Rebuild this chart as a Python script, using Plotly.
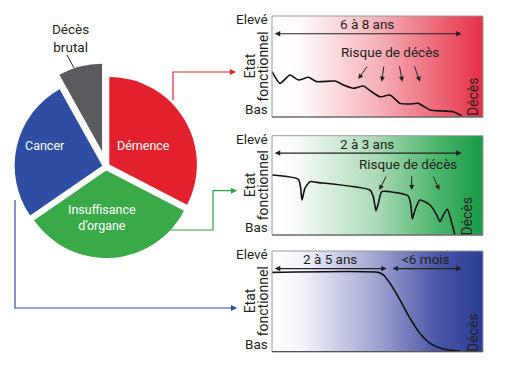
import plotly.graph_objects as go

# ---------------- data ----------------
causes = ["Démence", "Insuffisance d’organe", "Cancer", "Décès brutal"]
shares = [32.6, 32.8, 26.5, 8.1]
pie_colors = ["#e3202e", "#3aa947", "#2d4ea2", "#595b5e"]
pulls = [0.044, 0.044, 0.044, 0.18]

# functional-state curves (x: % of time span, y: % functional state)
red_x = [0, 3.8, 8.5, 12.5, 17.2, 21.2, 29.9, 33.8, 38.5, 43.3, 47.2, 51.2, 55.9,
         60.7, 65.4, 69.3, 74.9, 81.2, 85.9, 89.9]
red_y = [44.9, 33.3, 41.6, 36.6, 39.3, 35.0, 35.6, 31.7, 28.4, 30.7, 25.0, 20.0, 21.8,
         13.5, 12.9, 13.5, 6.9, 5.9, 5.2, 1.3]

green_x = [0, 12.5, 13.6, 14.2, 15.6, 18.0, 21.2, 46.4, 48.0, 49.3, 50.4, 52.0, 55.9,
           64.6, 65.9, 66.5, 67.8, 70.1, 74.9, 78.1, 79.6, 81.2, 83.1, 84.4, 86.7]
green_y = [60.4, 56.1, 47.0, 35.2, 47.0, 53.7, 53.0, 45.3, 38.6, 24.5, 31.9, 43.6, 43.6,
           39.3, 28.5, 16.1, 25.2, 35.2, 30.2, 20.1, 13.4, 20.1, 25.9, 18.4, 0]

blue_x = [0, 50.4, 52.8, 55.9, 60.7, 65.4, 70.1, 74.9, 81.2, 89.1]
blue_y = [78.8, 78.8, 76.2, 67.9, 51.3, 33.2, 18.3, 8.3, 2.7, 0.7]

# duration spans per panel: (start %, end %, label)
red_spans = [(0.6, 89.9, "6 à 8 ans")]
green_spans = [(0.6, 89.9, "2 à 3 ans")]
blue_spans = [(0.6, 54.4, "2 à 5 ans"), (56.4, 89.9, "<6 mois")]

# "Risque de décès" arrows: (tail x, tail y, head x, head y)
red_risk = [(45.6, 51.5, 40.9, 37.6), (53.1, 51.5, 52.0, 35.0),
            (60.3, 51.5, 61.8, 35.0), (67.3, 51.5, 70.1, 35.0)]
green_risk = [(54.4, 60.4, 50.9, 45.3), (66.2, 60.4, 66.2, 45.3),
              (76.1, 60.4, 79.3, 45.3)]

W, H = 506, 371
FONT = "Roboto, Liberation Sans, sans-serif"
TXT = "#231f20"
PS = 13.5  # panel text size


def px(x):
    return x / W


def py(y):
    return 1 - y / H


fig = go.Figure()

# ---------------- pie ----------------
fig.add_trace(go.Pie(
    labels=causes, values=shares, sort=False, direction="clockwise", rotation=0,
    pull=pulls, marker=dict(colors=pie_colors, line=dict(color="white", width=0)),
    textinfo="none", hoverinfo="label+percent", showlegend=False,
    domain=dict(x=[px(2.65), px(209.35)], y=[py(269.95), py(63.25)]),
))

# ---------------- panels ----------------
panels = [
    dict(x=red_x, y=red_y, spans=red_spans, risk=red_risk, risk_lbl=(56.0, 64.0),
         dom_y=(117, 16), deces=(95.4, 20),
         scale=[[0, "#ffffff"], [0.14, "#fffafa"], [0.5, "#f6b2b9"], [1, "#e62f44"]]),
    dict(x=green_x, y=green_y, spans=green_spans, risk=green_risk, risk_lbl=(64.5, 71.0),
         dom_y=(235, 135.7), deces=(92.3, 19.3),
         scale=[[0, "#ffffff"], [0.12, "#f7fbf8"], [0.5, "#a9d9b5"], [0.78, "#4cb56a"], [1, "#179a45"]]),
    dict(x=blue_x, y=blue_y, spans=blue_spans, risk=[], risk_lbl=None,
         dom_y=(351.7, 251), deces=(95.0, 19.0),
         scale=[[0, "#ffffff"], [0.15, "#f2f2f9"], [0.5, "#9ea3d1"], [0.78, "#4a57a7"], [1, "#2b3d94"]]),
]

annotations = []
shapes = []
for i, p in enumerate(panels, start=2):
    xa, ya = f"x{i}", f"y{i}"
    # gradient background
    fig.add_trace(go.Scatter(
        x=[0, 100, 100, 0, 0], y=[0, 0, 100, 100, 0], xaxis=xa, yaxis=ya,
        mode="lines", line=dict(width=0), fill="toself",
        fillgradient=dict(type="horizontal", colorscale=p["scale"]),
        hoverinfo="skip", showlegend=False))
    # curve
    fig.add_trace(go.Scatter(
        x=p["x"], y=p["y"], xaxis=xa, yaxis=ya, mode="lines",
        line=dict(color="#111111", width=1.6, shape="spline", smoothing=0.6),
        hoverinfo="skip", showlegend=False))
    fig.update_layout(**{
        f"xaxis{i}": dict(domain=[px(272), px(483)], range=[0, 100], anchor=ya,
                          showgrid=False, zeroline=False, showticklabels=False, ticks="",
                          showline=False),
        f"yaxis{i}": dict(domain=[py(p["dom_y"][0]), py(p["dom_y"][1])], range=[0, 100],
                          anchor=xa, showgrid=False, zeroline=False, showticklabels=False,
                          ticks="", showline=False),
    })
    # panel frame
    shapes.append(dict(type="rect", xref=f"{xa} domain", yref=f"{ya} domain", x0=0, x1=1, y0=0, y1=1,
                       line=dict(color="#9a9a9a", width=1), layer="above"))
    shapes.append(dict(type="line", xref=f"{xa} domain", yref=f"{ya} domain", x0=0, x1=1, y0=0, y1=0,
                       line=dict(color="#555555", width=1.2), layer="above"))
    # spans
    for (s0, s1, lbl) in p["spans"]:
        annotations.append(dict(x=s1, y=82.5, ax=s0, ay=82.5, xref=xa, yref=ya, axref=xa, ayref=ya,
                                text="", showarrow=True, arrowside="end+start", arrowhead=2,
                                arrowsize=1, arrowwidth=1.1, arrowcolor="#222222"))
        annotations.append(dict(x=(s0 + s1) / 2, y=92, xref=xa, yref=ya, text=lbl, showarrow=False,
                                font=dict(family=FONT, size=PS, color=TXT)))
    # risk arrows
    for (tx, ty, hx, hy) in p["risk"]:
        annotations.append(dict(x=hx, y=hy, ax=tx, ay=ty, xref=xa, yref=ya, axref=xa, ayref=ya,
                                text="", showarrow=True, arrowhead=2, arrowsize=1,
                                arrowwidth=1, arrowcolor="#222222"))
    if p["risk_lbl"]:
        annotations.append(dict(x=p["risk_lbl"][0], y=p["risk_lbl"][1], xref=xa, yref=ya,
                                text="Risque de décès", showarrow=False,
                                font=dict(family=FONT, size=PS, color=TXT)))
    # Décès vertical
    annotations.append(dict(x=p["deces"][0], y=p["deces"][1], xref=xa, yref=ya, text="Décès",
                            textangle=-90, showarrow=False,
                            font=dict(family=FONT, size=14, color=TXT)))
    # axis labels
    annotations.append(dict(x=0, y=100, xref=xa, yref=ya, xanchor="right", yanchor="middle",
                            xshift=-2, yshift=-3, text="Elevé", showarrow=False,
                            font=dict(family=FONT, size=PS, color=TXT)))
    annotations.append(dict(x=0, y=0, xref=xa, yref=ya, xanchor="right", yanchor="middle",
                            xshift=-2, yshift=8, text="Bas", showarrow=False,
                            font=dict(family=FONT, size=PS, color=TXT)))
    annotations.append(dict(x=0, y=50, xref=xa, yref=ya, xanchor="center", yanchor="middle",
                            xshift=-22, text="Etat", textangle=-90, showarrow=False,
                            font=dict(family=FONT, size=14, color=TXT)))
    annotations.append(dict(x=0, y=50, xref=xa, yref=ya, xanchor="center", yanchor="middle",
                            xshift=-9, text="fonctionnel", textangle=-90, showarrow=False,
                            font=dict(family=FONT, size=14, color=TXT)))

# ---------------- pie labels ----------------
pie_lbls = [("Démence", 143, 145), ("Insuffisance<br>d’organe", 102, 217.5), ("Cancer", 45, 145)]
for t, x, y in pie_lbls:
    annotations.append(dict(x=px(x), y=py(y), xref="paper", yref="paper", xanchor="center",
                            yanchor="middle", text=t, showarrow=False,
                            font=dict(family=FONT, size=12.5, color="white")))
annotations.append(dict(x=px(70), y=py(37.5), xref="paper", yref="paper", xanchor="center",
                        yanchor="middle", text="Décès<br>brutal",
                        showarrow=False, font=dict(family=FONT, size=13.5, color=TXT)))

# ---------------- connectors ----------------
connectors = [
    ("#d9262e", [(173, 100), (173, 72), (236, 72)]),
    ("#2fa043", [(170, 230), (213, 230), (213, 190.7), (237, 190.7)]),
    ("#2d4ea2", [(15, 200), (15, 308), (237, 308)]),
]
for col, pts in connectors:
    path = "M " + " L ".join(f"{px(a)},{py(b)}" for a, b in pts[:-1])
    path += f" L {px(pts[-1][0] - 4)},{py(pts[-1][1])}"
    shapes.append(dict(type="path", path=path, xref="paper", yref="paper",
                       line=dict(color=col, width=1.2), layer="below"))
    a1, b1 = pts[-1]
    annotations.append(dict(x=px(a1), y=py(b1), ax=-8, ay=0, xref="paper", yref="paper",
                            axref="pixel", ayref="pixel", text="", showarrow=True, arrowhead=2,
                            arrowsize=1, arrowwidth=1.2, arrowcolor=col))
shapes.append(dict(type="line", x0=px(67), y0=py(55), x1=px(74), y1=py(68), xref="paper",
                   yref="paper", line=dict(color="#222222", width=1)))

fig.update_layout(width=W, height=H, margin=dict(l=0, r=0, t=0, b=0),
                  paper_bgcolor="white", plot_bgcolor="white", showlegend=False,
                  annotations=annotations, shapes=shapes)

fig.write_html("out.html", config={"displayModeBar": False},
               post_script="document.body.style.margin='0';document.body.style.padding='0';")
